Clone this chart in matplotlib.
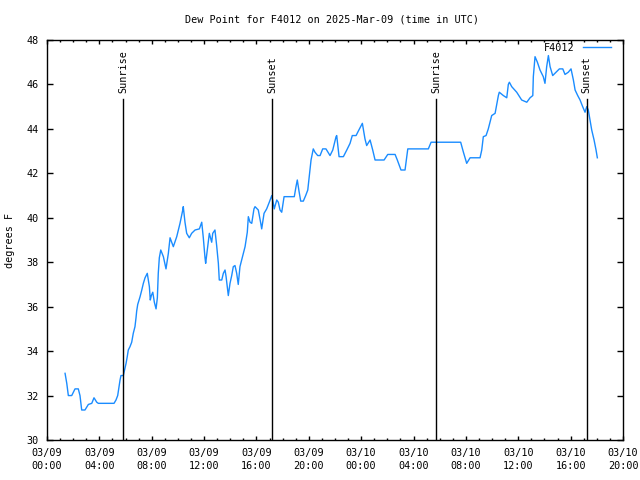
import matplotlib
matplotlib.use("Agg")
import matplotlib.pyplot as plt
import matplotlib.dates as mdates
import numpy as np
from datetime import datetime, timedelta

# ---- data (hours after 2025-03-09 00:00 UTC, dew point in degrees F) ----
hours = [1.38, 1.51, 1.63, 1.89, 2.14, 2.39, 2.52, 2.65, 2.90, 3.16, 3.42, 3.59, 3.80, 3.92,
         5.12, 5.27, 5.40, 5.50, 5.58, 5.65, 5.83, 6.04, 6.13, 6.21, 6.34, 6.47, 6.59, 6.72,
         6.80, 6.85, 6.93, 7.03, 7.11, 7.24, 7.36, 7.49, 7.66, 7.82, 7.89, 7.97, 8.08, 8.20,
         8.33, 8.43, 8.50, 8.58, 8.69, 8.89, 9.09, 9.27, 9.40, 9.65, 9.91, 10.16, 10.37, 10.41,
         10.54, 10.67, 10.87, 11.05, 11.31, 11.64, 11.82, 11.94, 12.07, 12.12, 12.28, 12.40,
         12.58, 12.66, 12.83, 12.96, 13.09, 13.16, 13.35, 13.47, 13.60, 13.68, 13.77, 13.85,
         13.98, 14.11, 14.23, 14.36, 14.49, 14.61, 14.74, 14.87, 15.13, 15.30, 15.38, 15.51,
         15.64, 15.81, 15.89, 16.14, 16.33, 16.40, 16.58, 16.78, 16.98, 17.17, 17.29, 17.36,
         17.55, 17.67, 17.80, 17.93, 18.11, 18.89, 19.02, 19.12, 19.25, 19.38, 19.58, 19.76,
         19.92, 20.04, 20.17, 20.34, 20.47, 20.68, 20.86, 21.06, 21.31, 21.62, 21.83, 22.08,
         22.13, 22.31, 22.64, 22.90, 23.15, 23.32, 23.61, 23.78, 24.09, 24.29, 24.42, 24.68,
         24.88, 25.06, 25.75, 26.03, 26.59, 26.76, 27.04, 27.35, 27.56, 29.13, 29.34, 31.60,
         31.80, 32.06, 32.32, 33.08, 33.21, 33.33, 33.54, 33.71, 33.97, 34.23, 34.48, 34.55,
         34.86, 35.12, 35.24, 35.32, 35.50, 35.88, 36.26, 36.65, 36.90, 37.11, 37.15, 37.28,
         37.46, 37.66, 37.91, 38.04, 38.17, 38.30, 38.43, 38.63, 38.89, 39.14, 39.40, 39.57,
         39.82, 40.03, 40.21, 40.34, 40.54, 40.72, 40.92, 41.10, 41.23, 41.35, 41.48, 41.61,
         41.79, 41.94, 42.04]
dewpoint = [33.0, 32.55, 32.0, 32.0, 32.3, 32.3, 32.0, 31.35, 31.35, 31.6, 31.65, 31.9, 31.7, 31.65,
            31.65, 31.8, 32.0, 32.4, 32.7, 32.9, 32.9, 33.45, 33.75, 34.05, 34.2, 34.4, 34.8, 35.1,
            35.5, 35.8, 36.1, 36.3, 36.45, 36.75, 37.05, 37.3, 37.5, 36.9, 36.3, 36.5, 36.65, 36.2,
            35.9, 36.4, 37.5, 38.2, 38.55, 38.25, 37.7, 38.4, 39.1, 38.7, 39.15, 39.75, 40.35, 40.5,
            39.8, 39.3, 39.1, 39.3, 39.45, 39.5, 39.8, 39.1, 38.2, 37.95, 38.7, 39.3,
            38.9, 39.3, 39.45, 38.75, 37.95, 37.2, 37.2, 37.5, 37.65, 37.35, 36.9, 36.5,
            37.05, 37.4, 37.8, 37.85, 37.5, 37.0, 37.8, 38.1, 38.7, 39.35, 40.05, 39.8,
            39.75, 40.4, 40.5, 40.35, 39.75, 39.5, 40.2, 40.4, 40.7, 41.0, 40.65, 40.4,
            40.8, 40.7, 40.35, 40.25, 40.95, 40.95, 41.4, 41.7, 41.2, 40.75, 40.75, 41.0,
            41.25, 41.9, 42.6, 43.1, 42.95, 42.8, 42.8, 43.1, 43.1, 42.8, 43.05, 43.65,
            43.7, 42.75, 42.75, 43.05, 43.35, 43.7, 43.7, 43.9, 44.25, 43.55, 43.25, 43.5,
            43.05, 42.6, 42.6, 42.85, 42.85, 42.6, 42.15, 42.15, 43.1, 43.1, 43.4, 43.4,
            42.97, 42.45, 42.7, 42.7, 43.05, 43.65, 43.7, 44.0, 44.6, 44.7, 45.5, 45.65,
            45.5, 45.4, 46.0, 46.1, 45.9, 45.65, 45.3, 45.2, 45.4, 45.5, 46.35, 47.25,
            47.0, 46.65, 46.35, 46.05, 46.8, 47.3, 46.8, 46.4, 46.55, 46.7, 46.7, 46.45,
            46.55, 46.7, 46.2, 45.75, 45.5, 45.3, 45.0, 44.75, 45.0, 44.85, 44.4, 43.95,
            43.5, 43.05, 42.7]

sun_labels = ["Sunrise", "Sunset", "Sunrise", "Sunset"]
sun_hours = [5.83, 17.20, 29.74, 41.23]

station = "F4012"
title = "Dew Point for F4012 on 2025-Mar-09 (time in UTC)"
ylabel = "degrees F"
y_min, y_max = 30, 48
x_start_hours, x_end_hours = 0, 44
sun_line_top = 45.33
sun_label_base = 45.6

base = datetime(2025, 3, 9, 0, 0)
times = [base + timedelta(hours=h) for h in hours]
sun_times = [base + timedelta(hours=h) for h in sun_hours]

font = "DejaVu Sans Mono"
fs = 7.3
plt.rcParams["font.family"] = font

fig = plt.figure(figsize=(6.4, 4.8), dpi=100)
ax = fig.add_axes([47 / 640, 40 / 480, 576 / 640, 400 / 480])

ax.plot(times, dewpoint, color="#1a8cff", lw=1.0, label=station)

for t, lab in zip(sun_times, sun_labels):
    ax.plot([t, t], [y_min, sun_line_top], color="black", lw=1.0)
    ax.text(t, sun_label_base, lab, rotation=90, ha="center", va="bottom",
            fontsize=fs, family=font)

ax.set_xlim(base + timedelta(hours=x_start_hours), base + timedelta(hours=x_end_hours))
ax.set_ylim(y_min, y_max)
ax.set_yticks(np.arange(y_min, y_max + 1, 2))

ax.xaxis.set_major_locator(mdates.HourLocator(byhour=range(0, 24, 4)))
ax.xaxis.set_minor_locator(mdates.HourLocator())
ax.xaxis.set_major_formatter(mdates.DateFormatter("%m/%d\n%H:%M"))

ax.tick_params(axis="both", which="both", direction="in", top=True, right=True,
               labelsize=fs, width=1.0)
ax.tick_params(axis="x", which="major", length=3.2, pad=6)
ax.tick_params(axis="x", which="minor", length=1.7)
ax.tick_params(axis="y", which="major", length=4.3, pad=6)
for lbl in ax.get_xticklabels():
    lbl.set_linespacing(1.3)

for s in ax.spines.values():
    s.set_linewidth(1.0)
    s.set_color("black")

leg = ax.legend(loc="upper right", bbox_to_anchor=(0.981, 0.995), frameon=False,
                fontsize=fs, markerfirst=False, handlelength=2.8, handletextpad=0.8,
                borderaxespad=0.0, borderpad=0.1)

fig.text(332 / 640, 1 - 19 / 480, title, ha="center", va="center", fontsize=fs, family=font)
fig.text(10 / 640, 0.5, ylabel, rotation=90, ha="center", va="center", fontsize=fs, family=font)

fig.savefig("out.png", dpi=100)
